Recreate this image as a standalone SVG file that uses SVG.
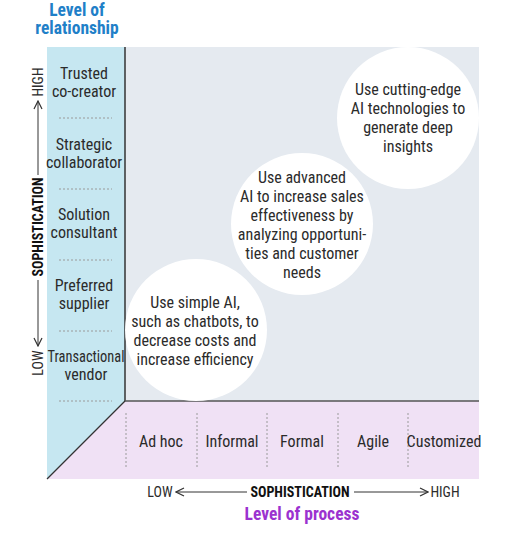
<svg xmlns="http://www.w3.org/2000/svg" width="531" height="541" viewBox="0 0 531 541">
<style>
text{font-family:"Liberation Sans Narrow","Roboto Condensed","Liberation Sans",Arial,sans-serif;fill:#2b2b2b;text-anchor:middle}
.lbl{font-size:16px}
.bub{font-size:16px}
.ax{font-size:14px}
.axb{font-size:14px;font-weight:bold;fill:#111}
.t1{font-size:17.5px;font-weight:bold;fill:#1f80c8}
.t2{font-size:17.5px;font-weight:bold;fill:#9b32cf}
.dot{stroke:#9a9a9a;stroke-width:1;stroke-dasharray:2,2;fill:none}
.arr{stroke:#333;stroke-width:1;fill:none}
</style>
<defs>
<marker id="chev" viewBox="0 0 10 10" refX="9" refY="5" markerWidth="10" markerHeight="10" markerUnits="userSpaceOnUse" orient="auto">
<path d="M1,1 L9,5 L1,9" fill="none" stroke="#333" stroke-width="1.2"/>
</marker>
</defs>

<g id="panels">
<polygon points="47,47 125,47 125,401 47,479" fill="#c6e7f1"/>
<rect x="125" y="47" width="354" height="354" fill="#e5eaf0"/>
<polygon points="125,401 479,401 479,479 47,479" fill="#f0e1f5"/>
</g>

<g id="connectors">
<line x1="125" y1="47" x2="125" y2="401" stroke="#333" stroke-width="1.5"/>
<line x1="125" y1="401" x2="479" y2="401" stroke="#555" stroke-width="1.5"/>
<line x1="125" y1="401" x2="47" y2="479" stroke="#333" stroke-width="1.2"/>
<line class="dot" x1="59" y1="118" x2="112" y2="118"/>
<line class="dot" x1="59" y1="189" x2="112" y2="189"/>
<line class="dot" x1="59" y1="260" x2="112" y2="260"/>
<line class="dot" x1="59" y1="331" x2="112" y2="331"/>
<line class="dot" x1="59" y1="401" x2="112" y2="401"/>
<line class="dot" x1="126" y1="413" x2="126" y2="467"/>
<line class="dot" x1="197" y1="413" x2="197" y2="467"/>
<line class="dot" x1="267" y1="413" x2="267" y2="467"/>
<line class="dot" x1="338" y1="413" x2="338" y2="467"/>
<line class="dot" x1="408" y1="413" x2="408" y2="467"/>
<line class="arr" x1="38" y1="175" x2="38" y2="101" marker-end="url(#chev)"/>
<line class="arr" x1="38" y1="280" x2="38" y2="346" marker-end="url(#chev)"/>
<line class="arr" x1="247" y1="492" x2="176" y2="492" marker-end="url(#chev)"/>
<line class="arr" x1="354" y1="492" x2="428" y2="492" marker-end="url(#chev)"/>
</g>

<g id="title-relationship">
<text class="t1" x="77" y="16">Level of</text>
<text class="t1" x="77" y="34">relationship</text>
</g>

<g id="axis-y">
<text class="ax" transform="translate(43,82) rotate(-90)">HIGH</text>
<text class="axb" transform="translate(43,227) rotate(-90)">SOPHISTICATION</text>
<text class="ax" transform="translate(43,363) rotate(-90)">LOW</text>
</g>

<g id="rel-trusted"><text class="lbl" x="84" y="79">Trusted</text><text class="lbl" x="84" y="97">co-creator</text></g>
<g id="rel-strategic"><text class="lbl" x="84" y="150">Strategic</text><text class="lbl" x="84" y="168">collaborator</text></g>
<g id="rel-solution"><text class="lbl" x="84" y="220">Solution</text><text class="lbl" x="84" y="238">consultant</text></g>
<g id="rel-preferred"><text class="lbl" x="84" y="291">Preferred</text><text class="lbl" x="84" y="309">supplier</text></g>
<g id="rel-transactional"><text class="lbl" x="86" y="362" textLength="77" lengthAdjust="spacingAndGlyphs">Transactional</text><text class="lbl" x="86" y="380">vendor</text></g>

<g id="bubble-1">
<circle cx="196" cy="330" r="71" fill="#fff"/>
<text class="bub" x="195" y="308">Use simple AI,</text>
<text class="bub" x="195" y="327">such as chatbots, to</text>
<text class="bub" x="195" y="346">decrease costs and</text>
<text class="bub" x="195" y="365">increase efficiency</text>
</g>
<g id="bubble-2">
<circle cx="302" cy="224" r="71" fill="#fff"/>
<text class="bub" x="302" y="183">Use advanced</text>
<text class="bub" x="302" y="202">AI to increase sales</text>
<text class="bub" x="302" y="221">effectiveness by</text>
<text class="bub" x="302" y="240">analyzing opportuni-</text>
<text class="bub" x="302" y="259">ties and customer</text>
<text class="bub" x="302" y="278">needs</text>
</g>
<g id="bubble-3">
<circle cx="408" cy="118" r="71" fill="#fff"/>
<text class="bub" x="408" y="95">Use cutting-edge</text>
<text class="bub" x="408" y="114">AI technologies to</text>
<text class="bub" x="408" y="133">generate deep</text>
<text class="bub" x="408" y="152">insights</text>
</g>

<g id="proc-adhoc"><text class="lbl" x="161" y="447">Ad hoc</text></g>
<g id="proc-informal"><text class="lbl" x="232" y="447">Informal</text></g>
<g id="proc-formal"><text class="lbl" x="302" y="447">Formal</text></g>
<g id="proc-agile"><text class="lbl" x="373" y="447">Agile</text></g>
<g id="proc-customized"><text class="lbl" x="444" y="447">Customized</text></g>

<g id="axis-x">
<text class="ax" x="160" y="497">LOW</text>
<text class="axb" x="300" y="497">SOPHISTICATION</text>
<text class="ax" x="445" y="497">HIGH</text>
</g>

<g id="title-process">
<text class="t2" x="302" y="520">Level of process</text>
</g>
</svg>
